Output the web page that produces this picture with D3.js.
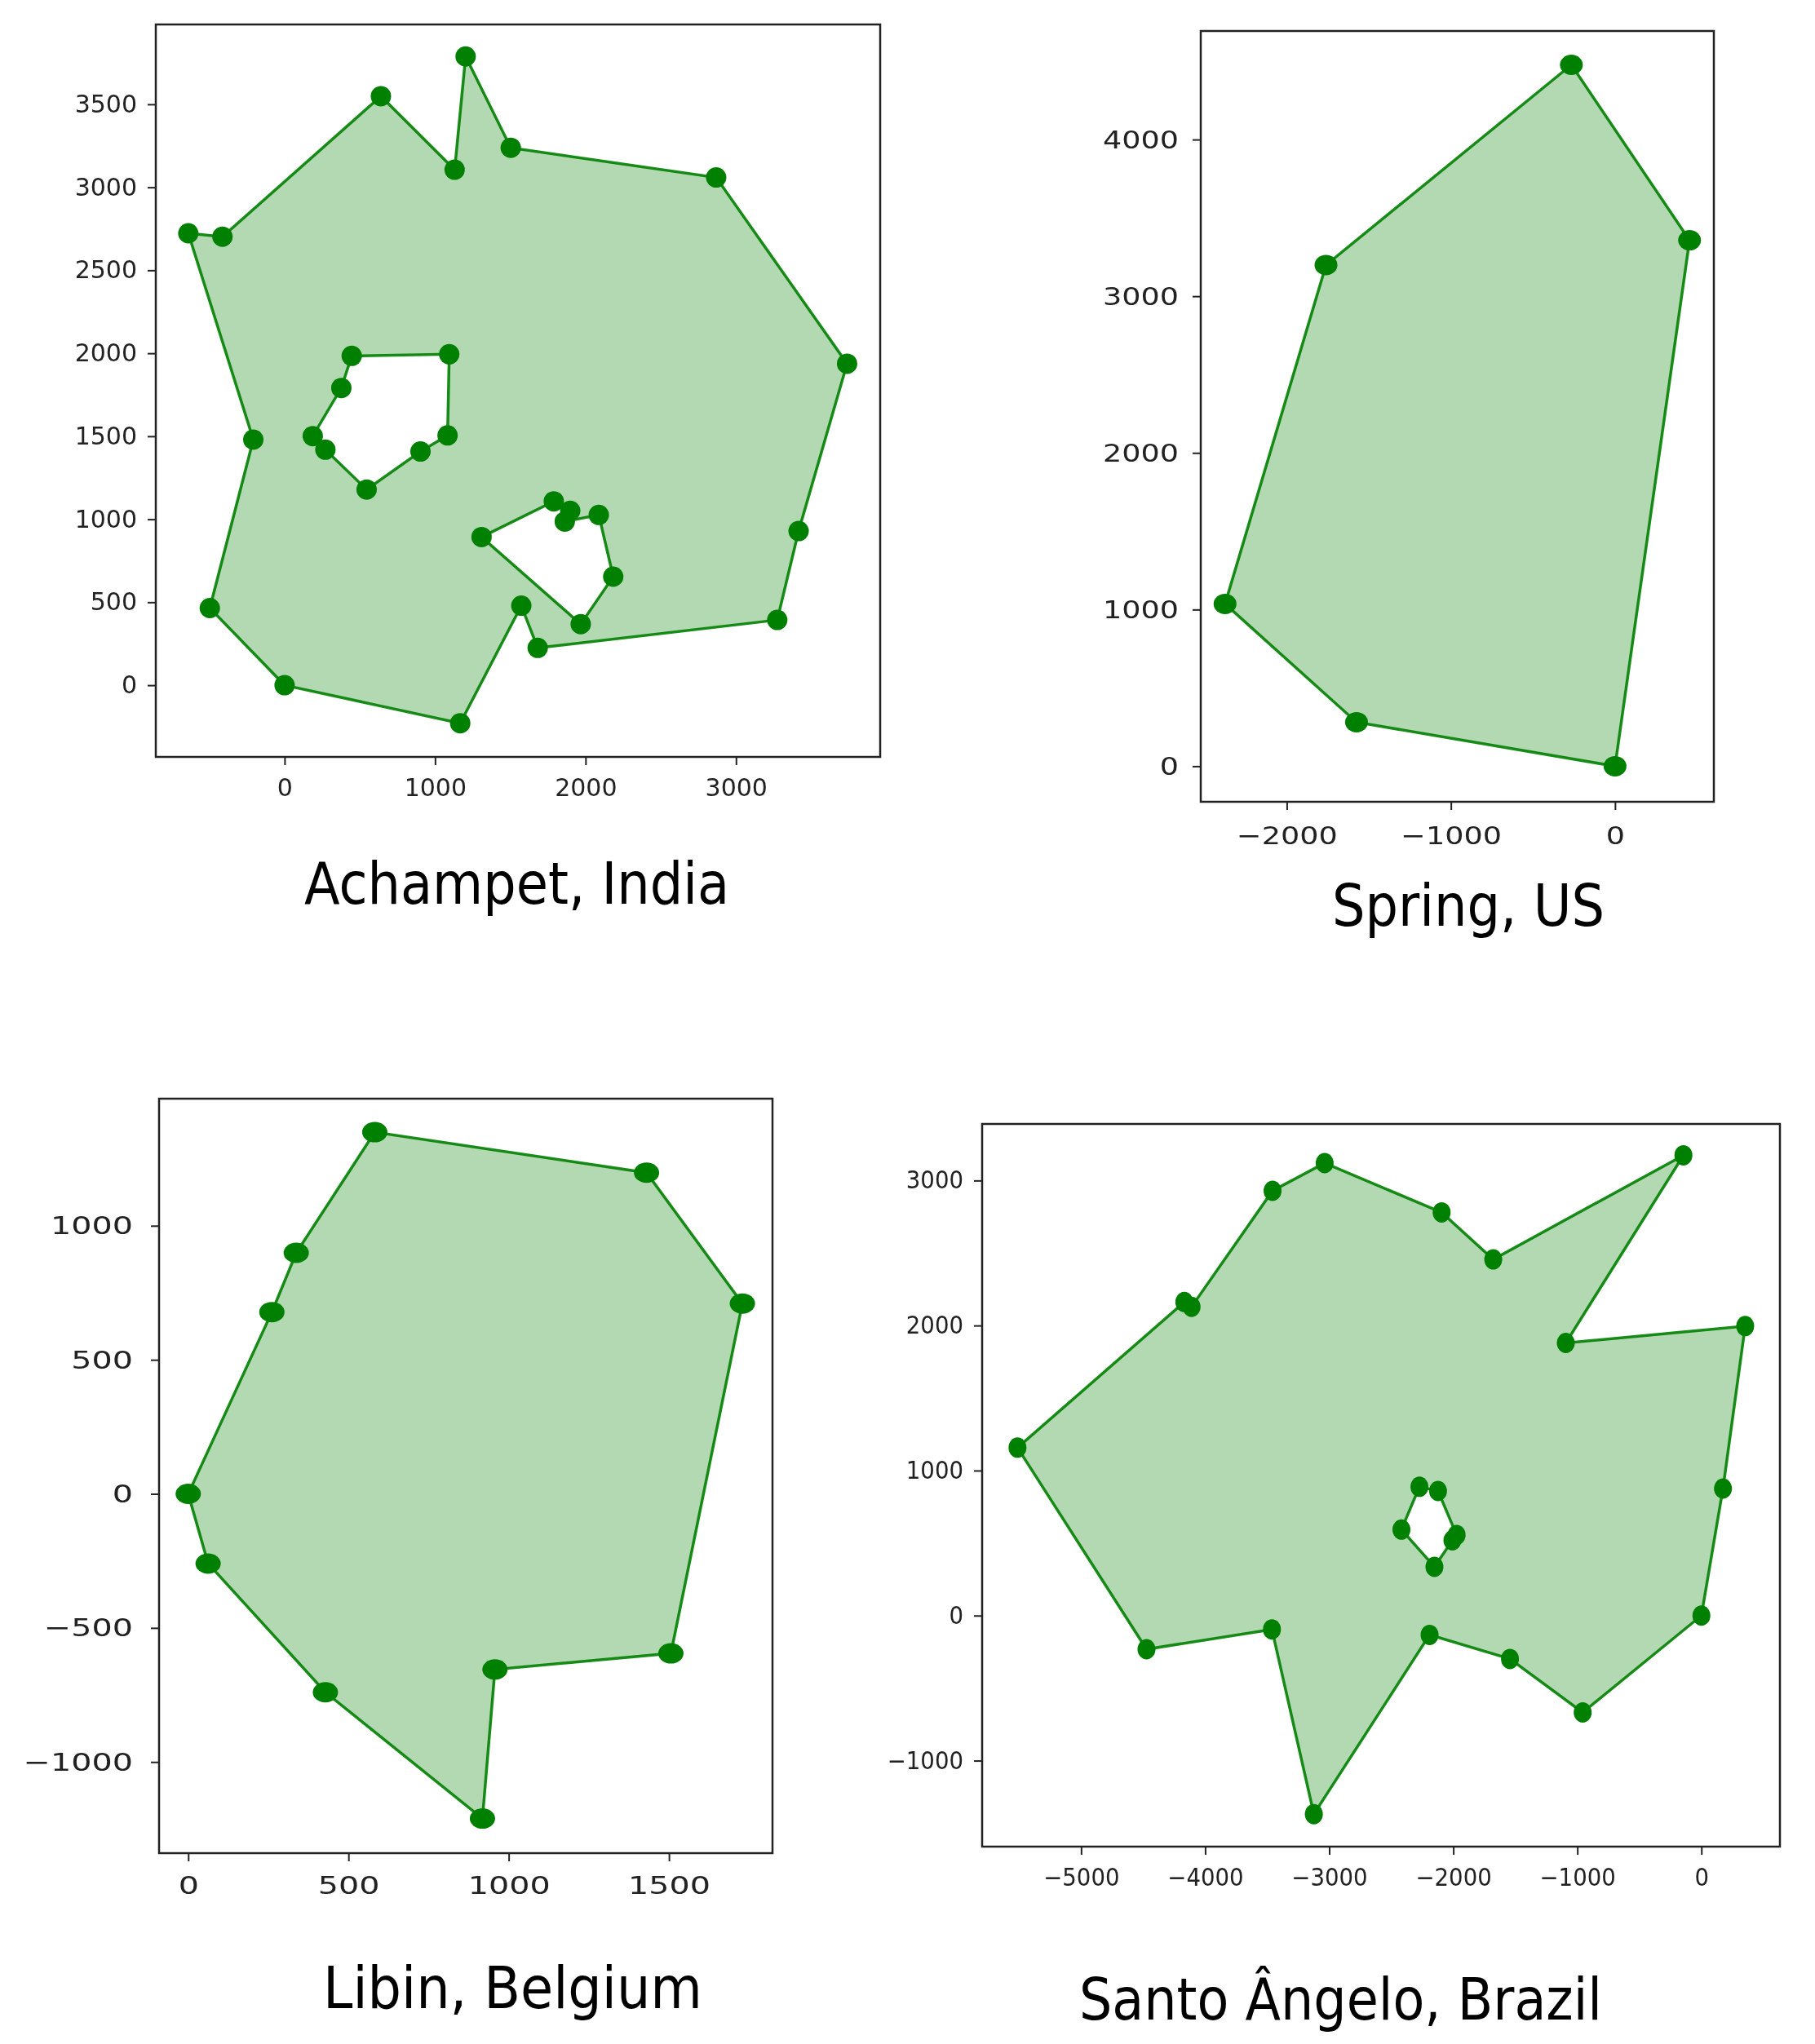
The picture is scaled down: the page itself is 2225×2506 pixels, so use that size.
<!DOCTYPE html>
<html>
<head>
<meta charset="utf-8">
<script src="https://cdn.jsdelivr.net/npm/d3@7"></script>
<style>
  body { margin: 0; background: #fff; }
  svg { display: block; }
  text { font-family: "DejaVu Sans", sans-serif; }
</style>
</head>
<body>
<div id="chart"></div>
<script>
  // values, [x, y]
  var achampetOuter = [[0,0],[1167,-229],[1573,479],[1682,225],[3274,393],[3416,929],[3738,1937],[2868,3059],[1503,3238],[1203,3788],[1130,3106],[640,3549],[-413,2702],[-640,2723],[-208,1480],[-497,465]];
  var achampetHoleA = [[446,1984],[1094,1994],[1083,1505],[903,1408],[545,1179],[271,1419],[187,1501],[377,1791]];
  var achampetHoleB = [[1309,893],[1789,1108],[1898,1051],[1862,986],[2088,1026],[2184,654],[1968,368]];

  var springOuter = [[0,0],[454,3357],[-266,4477],[-1761,3199],[-2376,1036],[-1575,281]];

  var libinOuter = [[0,0],[62,-260],[428,-740],[918,-1211],[957,-655],[1506,-595],[1729,710],[1430,1198],[582,1349],[337,899],[261,678]];

  var santoOuter = [[0,0],[-957,-668],[-1543,-299],[-2191,-133],[-3124,-1369],[-3462,-95],[-4473,-232],[-5513,1158],[-4168,2162],[-4110,2129],[-3457,2929],[-3037,3120],[-2094,2780],[-1678,2456],[-145,3174],[-1093,1880],[353,1996],[174,876]];
  var santoHole = [[-2273,888],[-2123,859],[-1973,556],[-2007,519],[-2152,336],[-2418,593]];

  var achampetXTicks = [0, 1000, 2000, 3000];
  var achampetYTicks = [0, 500, 1000, 1500, 2000, 2500, 3000, 3500];
  var springXTicks = [-2000, -1000, 0];
  var springYTicks = [0, 1000, 2000, 3000, 4000];
  var libinXTicks = [0, 500, 1000, 1500];
  var libinYTicks = [-1000, -500, 0, 500, 1000];
  var santoXTicks = [-5000, -4000, -3000, -2000, -1000, 0];
  var santoYTicks = [-1000, 0, 1000, 2000, 3000];

  var svg = d3.select("#chart").append("svg")
    .attr("width", 2225)
    .attr("height", 2506);

  // each source plot was a stretched bitmap, so text and markers get their own scaling
  var panels = [
    { title: "Achampet, India", rings: [achampetOuter, achampetHoleA, achampetHoleB],
      xTicks: achampetXTicks, yTicks: achampetYTicks,
      xDomain: [-856, 3958], yDomain: [-432, 3981],
      frame: { left: 191, right: 1079, top: 30, bottom: 928 },
      font: 30, stretch: 1.0, rx: 12.5, ry: 12.5, xPad: 17, yGap: 23,
      titleX: 373, titleW: 521, titleY: 1108 },
    { title: "Spring, US", rings: [springOuter],
      xTicks: springXTicks, yTicks: springYTicks,
      xDomain: [-2524, 602], yDomain: [-227, 4693],
      frame: { left: 1472, right: 2101, top: 38, bottom: 983 },
      font: 31, stretch: 1.18, rx: 14, ry: 12.5, xPad: 20, yGap: 27,
      titleX: 1633, titleW: 334, titleY: 1135 },
    { title: "Libin, Belgium", rings: [libinOuter],
      xTicks: libinXTicks, yTicks: libinYTicks,
      xDomain: [-91, 1823], yDomain: [-1340, 1474],
      frame: { left: 195, right: 947, top: 1347, bottom: 2272 },
      font: 31, stretch: 1.28, rx: 15.5, ry: 12.5, xPad: 18, yGap: 32,
      titleX: 396, titleW: 465, titleY: 2462 },
    { title: "Santo Ângelo, Brazil", rings: [santoOuter, santoHole],
      xTicks: santoXTicks, yTicks: santoYTicks,
      xDomain: [-5798, 633], yDomain: [-1593, 3390],
      frame: { left: 1204, right: 2182, top: 1378, bottom: 2264 },
      font: 30, stretch: 0.92, rx: 11, ry: 12.5, xPad: 17, yGap: 23,
      titleX: 1323, titleW: 641, titleY: 2476 }
  ];

  var defs = svg.append("defs");
  defs.append("filter").attr("id", "soft")
    .append("feGaussianBlur").attr("stdDeviation", 0.6);

  panels.forEach(function(p) {
    var f = p.frame;
    var x = d3.scaleLinear().domain(p.xDomain).range([f.left, f.right]);
    var y = d3.scaleLinear().domain(p.yDomain).range([f.bottom, f.top]);

    var g = svg.append("g").attr("filter", "url(#soft)");

    var line = d3.line()
      .x(function(d) { return x(d[0]); })
      .y(function(d) { return y(d[1]); })
      .curve(d3.curveLinearClosed);

    /*
      one path per polygon, the holes stay open with evenodd
    */
    g.append("path")
      .attr("d", p.rings.map(function(r) { return line(r); }).join(""))
      .attr("fill", "green")
      .attr("fill-opacity", 0.3)
      .attr("fill-rule", "evenodd")
      .attr("stroke", "green")
      .attr("stroke-opacity", 0.9)
      .attr("stroke-width", 3.5);

    p.rings.forEach(function(r) {
      g.selectAll(null)
        .data(r)
        .enter().append("ellipse")
        .attr("cx", function(d) { return x(d[0]); })
        .attr("cy", function(d) { return y(d[1]); })
        .attr("rx", p.rx)
        .attr("ry", p.ry)
        .attr("fill", "#008000");
    });

    g.append("rect")
      .attr("x", f.left)
      .attr("y", f.top)
      .attr("width", f.right - f.left)
      .attr("height", f.bottom - f.top)
      .attr("fill", "none")
      .attr("stroke", "#222")
      .attr("stroke-width", 2.5);

    var xAxis = d3.axisBottom(x).tickValues(p.xTicks).tickFormat(d3.format("d")).tickSize(10).tickPadding(p.xPad);
    var yAxis = d3.axisLeft(y).tickValues(p.yTicks).tickFormat(d3.format("d")).tickSize(10);

    var gx = g.append("g").attr("transform", "translate(0," + f.bottom + ")").call(xAxis);
    var gy = g.append("g").attr("transform", "translate(" + f.left + ",0)").call(yAxis);

    [gx, gy].forEach(function(a) {
      a.select(".domain").remove();
      a.selectAll("line").attr("stroke", "#222").attr("stroke-width", 2);
      a.selectAll("text").attr("font-size", p.font).attr("fill", "#222")
        .style("font-family", '"DejaVu Sans", sans-serif');
    });

    // horizontal stretch of the labels, measured around each tick
    gx.selectAll("text").attr("transform", "scale(" + p.stretch + ",1)");
    gy.selectAll("text")
      .attr("x", -p.yGap / p.stretch)
      .attr("transform", "scale(" + p.stretch + ",1)");

    svg.append("text")
      .attr("x", p.titleX)
      .attr("y", p.titleY)
      .attr("font-size", 72)
      .attr("textLength", p.titleW)
      .attr("lengthAdjust", "spacingAndGlyphs")
      .attr("fill", "#000")
      .text(p.title);
  });
</script>
</body>
</html>
